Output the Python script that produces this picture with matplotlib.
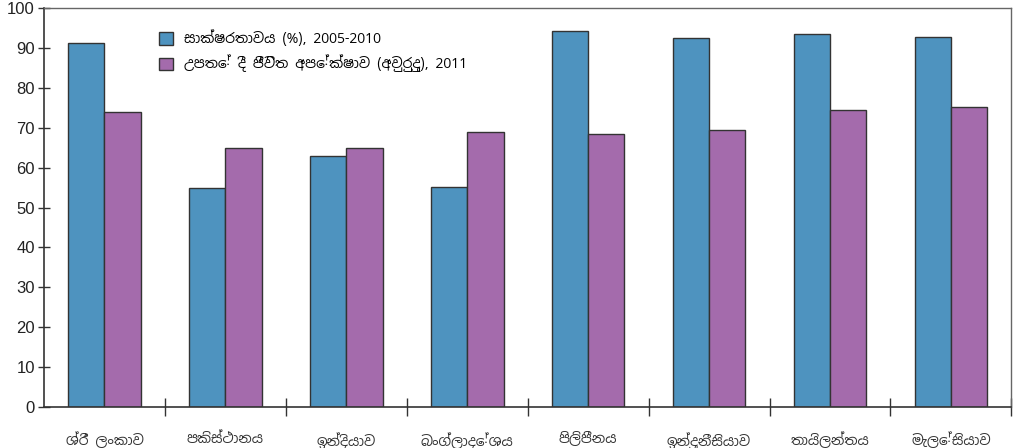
import matplotlib
matplotlib.use("Agg")
import matplotlib.pyplot as plt
from matplotlib import font_manager
from matplotlib.ft2font import FT2Font
import numpy as np

countries = ["ශ්රී ලංකාව", "පකිස්ථානය", "ඉන්දියාව", "බංග්ලාදේශය",
             "පිලිපීනය", "ඉන්දුනීසියාව", "තායිලන්තය", "මැලේසියාව"]
literacy = [91.2, 55.0, 62.8, 55.1, 94.3, 92.6, 93.5, 92.8]
life_exp = [74.0, 64.8, 64.8, 68.9, 68.4, 69.5, 74.4, 75.1]
series_labels = ["සාක්ෂරතාවය (%), 2005-2010",
                 "උපතේ දී ජීවිත අපේක්ෂාව (අවුරුදු), 2011"]
yticks = list(range(0, 101, 10))

# find fonts with Sinhala glyphs, prefer proportional sans fonts
cands = []
for fe in font_manager.fontManager.ttflist:
    try:
        ft = FT2Font(fe.fname)
        cm = ft.get_charmap()
        if 0x0DC1 in cm and 0x0DCF in cm and fe.name not in cands:
            cands.append(fe.name)
    except Exception:
        pass

def score(n):
    s = 0
    if 'Sinhala' in n:
        s -= 10
    if 'Mono' in n:
        s += 20
    if 'Sans' in n:
        s -= 3
    if 'Serif' in n:
        s += 2
    return s

cands.sort(key=score)
sin_fam = cands + ['DejaVu Sans']
plt.rcParams['font.family'] = sin_fam

fig = plt.figure(figsize=(10.14, 4.48), dpi=100)
ax = fig.add_axes([0.0434, 0.0915, 0.954, 0.8905])

x = np.arange(len(countries))
w = 0.3
ax.bar(x - w / 2, literacy, w, color="#4E93BF", edgecolor="#333333", linewidth=1.0, label=series_labels[0])
ax.bar(x + w / 2, life_exp, w, color="#A46BAC", edgecolor="#333333", linewidth=1.0, label=series_labels[1])

ax.set_xlim(-0.5, len(countries) - 0.5)
ax.set_ylim(0, 100)
ax.set_yticks(yticks)
ax.set_yticklabels([str(v) for v in yticks], family=['Liberation Sans', 'DejaVu Sans'], fontsize=12, color="#222222")
ax.set_xticks(x)
ax.set_xticklabels(countries, fontsize=10, color="#333333")
ax.set_xticks(np.arange(0.5, len(countries) - 0.5 + 0.01, 1), minor=True)
ax.tick_params(axis='x', which='major', length=0, pad=18)
ax.tick_params(axis='x', which='minor', length=13, direction='inout', width=1, color="#333333")
ax.tick_params(axis='y', length=9, direction='inout', width=1, color="#333333", pad=2)

for s in ['left', 'bottom']:
    ax.spines[s].set_color("#333333")
    ax.spines[s].set_linewidth(1.2)
for s in ['top', 'right']:
    ax.spines[s].set_color("#666666")
    ax.spines[s].set_linewidth(1.0)

ax.legend(loc='upper left', bbox_to_anchor=(0.106, 0.975), frameon=False, fontsize=10,
          handlelength=1.0, handleheight=1.0, handletextpad=0.8, labelspacing=0.55)

fig.savefig("out.png", dpi=100)
